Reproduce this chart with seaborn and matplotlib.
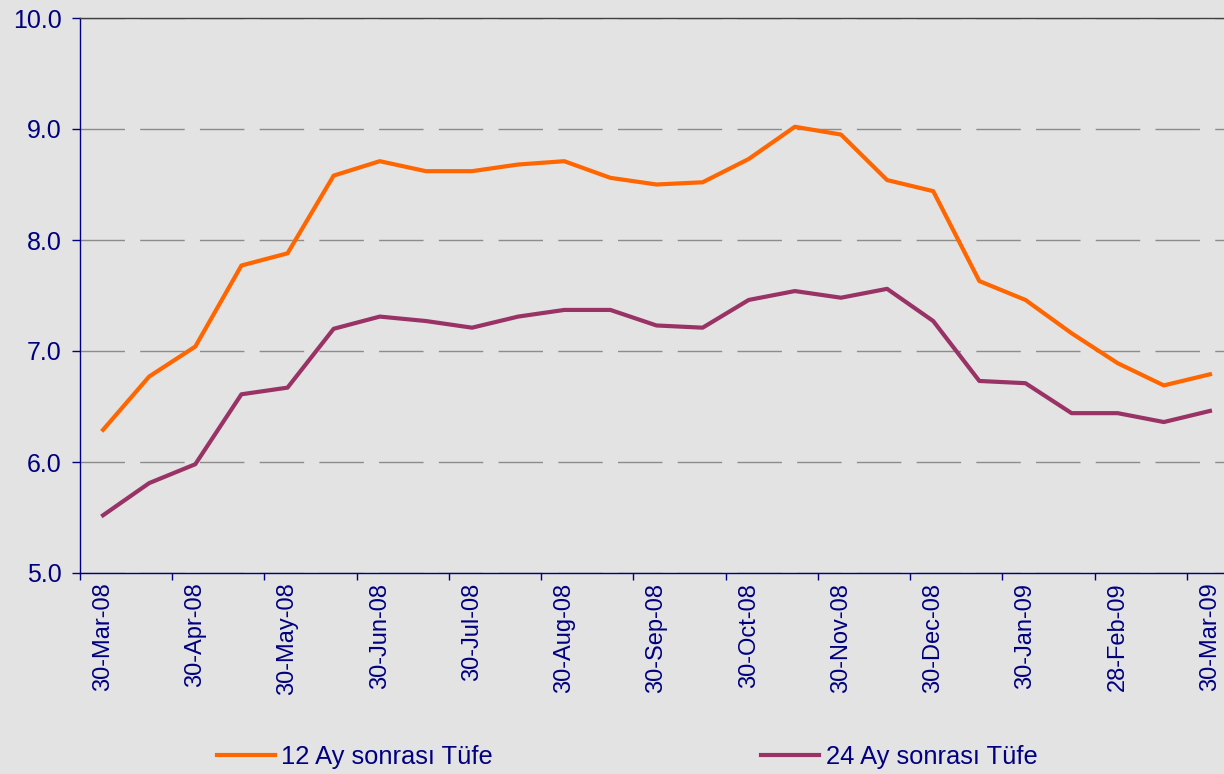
import numpy as np
import pandas as pd
import matplotlib
matplotlib.use("Agg")
import matplotlib.pyplot as plt
import seaborn as sns

# semi-monthly observations, 30-Mar-08 .. 30-Mar-09
tick_labels = ["30-Mar-08", "30-Apr-08", "30-May-08", "30-Jun-08", "30-Jul-08",
               "30-Aug-08", "30-Sep-08", "30-Oct-08", "30-Nov-08", "30-Dec-08",
               "30-Jan-09", "28-Feb-09", "30-Mar-09"]

tufe_12 = [6.29, 6.77, 7.04, 7.77, 7.88, 8.58, 8.71, 8.62, 8.62, 8.68, 8.71, 8.56, 8.50,
           8.52, 8.73, 9.02, 8.95, 8.54, 8.44, 7.63, 7.46, 7.16, 6.89, 6.69, 6.79]
tufe_24 = [5.52, 5.81, 5.98, 6.61, 6.67, 7.20, 7.31, 7.27, 7.21, 7.31, 7.37, 7.37, 7.23,
           7.21, 7.46, 7.54, 7.48, 7.56, 7.27, 6.73, 6.71, 6.44, 6.44, 6.36, 6.46]
series_names = ["12 Ay sonrası Tüfe", "24 Ay sonrası Tüfe"]
colors = ["#FF6600", "#993366"]

n = len(tufe_12)
df = pd.DataFrame({
    "idx": np.tile(np.arange(n), 2),
    "value": tufe_12 + tufe_24,
    "series": np.repeat(series_names, n),
})

navy = "#000080"
bg = "#E3E3E3"
plt.rcParams["font.family"] = ["Liberation Sans", "DejaVu Sans"]

fig = plt.figure(figsize=(12.24, 7.74), dpi=100, facecolor=bg)
W, H = 1224, 774
ax = fig.add_axes([80 / W, (H - 573) / H, (1233 - 80) / W, (573 - 18) / H])
ax.set_facecolor(bg)

sns.lineplot(data=df, x="idx", y="value", hue="series", palette=colors,
             linewidth=3, ax=ax, legend=True)

ax.set_xlim(-0.5, n - 0.5)
ax.set_ylim(5, 10)
ax.set_yticks(np.arange(5, 10.01, 1))
ax.set_yticklabels([f"{v:.1f}" for v in np.arange(5, 10.01, 1)])
ax.set_xticks(np.arange(0, n, 2))
ax.set_xticklabels(tick_labels, rotation=90, va="top", ha="center")
ax.set_xticks(np.arange(-0.5, n, 2), minor=True)
ax.set_xlabel("")
ax.set_ylabel("")

ax.tick_params(axis="x", which="major", length=0, pad=7, labelsize=17, labelcolor=navy)
ax.tick_params(axis="x", which="minor", length=5, width=1, color=navy, direction="out")
ax.tick_params(axis="y", length=6, width=1, color=navy, pad=7, labelsize=18, labelcolor=navy)

ax.yaxis.grid(True, color="#8C8C8C", linewidth=1, linestyle=(0, (32, 11)))
ax.set_axisbelow(True)

ax.spines["left"].set_color(navy)
ax.spines["bottom"].set_color(navy)
ax.spines["top"].set_color("#404040")
ax.spines["right"].set_visible(False)
for s in ["left", "bottom", "top"]:
    ax.spines[s].set_linewidth(1)

handles, labels = ax.get_legend_handles_labels()
ax.get_legend().remove()
for h in handles:
    h.set_linewidth(3)
fig.legend(handles, labels, loc="center left", bbox_to_anchor=(217 / W, 1 - 757 / H),
           ncol=2, frameon=False, fontsize=18.4, labelcolor=navy, handlelength=2.25,
           handletextpad=0.27, columnspacing=10.5, borderpad=0, borderaxespad=0)

fig.savefig("out.png", dpi=100, facecolor=bg)
